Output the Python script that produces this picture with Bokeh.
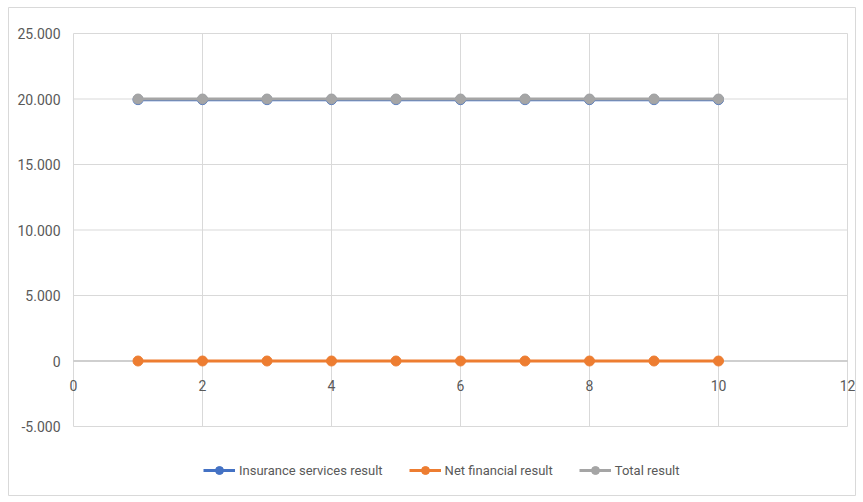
from bokeh.plotting import figure
from bokeh.models import Legend, LegendItem
from bokeh.core.properties import value
from bokeh.embed import file_html
from bokeh.resources import INLINE

periods = [1, 2, 3, 4, 5, 6, 7, 8, 9, 10]
insurance_services = [19950, 19950, 19950, 19950, 19950, 19950, 19950, 19950, 19950, 19950]
net_financial = [0, 0, 0, 0, 0, 0, 0, 0, 0, 0]
total_result = [20000, 20000, 20000, 20000, 20000, 20000, 20000, 20000, 20000, 20000]
series_names = ["Insurance services result", "Net financial result", "Total result"]
y_ticks = [-5000, 0, 5000, 10000, 15000, 20000, 25000]
y_labels = ["-5.000", "0", "5.000", "10.000", "15.000", "20.000", "25.000"]
x_ticks = [0, 2, 4, 6, 8, 10, 12]
x_labels = ["0", "2", "4", "6", "8", "10", "12"]
x_min, x_max = 0, 12
y_min, y_max = -5000, 25000

FONT = "Roboto"
TXT = "#595959"
GRID = "#d9d9d9"
colors = ["#4472C4", "#ED7D31", "#A5A5A5"]

# The frame is the chart-area border; axes are drawn inside it.
p = figure(width=863, height=502, output_backend="svg", toolbar_location=None,
           x_range=(-1.008, 12.124), y_range=(-10267, 26985),
           min_border_left=8, min_border_right=8, min_border_top=7, min_border_bottom=7)
p.outline_line_color = GRID
p.background_fill_color = "white"
p.border_fill_color = "white"
p.xaxis.visible = False
p.yaxis.visible = False
p.xgrid.grid_line_color = None
p.ygrid.grid_line_color = None

# vertical gridlines
p.segment(x0=x_ticks, x1=x_ticks, y0=[y_min] * len(x_ticks), y1=[y_max] * len(x_ticks),
          line_color=GRID, line_width=1)
# horizontal gridlines (except zero line)
grid_y = [t for t in y_ticks if t != 0]
p.segment(x0=[x_min] * len(grid_y), x1=[x_max] * len(grid_y), y0=grid_y, y1=grid_y,
          line_color=GRID, line_width=1)
# zero axis line
p.segment(x0=[x_min], x1=[x_max], y0=[0], y1=[0], line_color="#bfbfbf", line_width=1.5)

# tick labels
p.text(x=[x_min] * len(y_ticks), y=y_ticks, text=y_labels, x_offset=-13,
       text_align="right", text_baseline="middle", text_font=value(FONT),
       text_font_size="14px", text_color=TXT)
p.text(x=x_ticks, y=[0] * len(x_ticks), text=x_labels, y_offset=19,
       text_align="center", text_baseline="top", text_font=value(FONT),
       text_font_size="14px", text_color=TXT)

items = []
for vals, name, col in zip([insurance_services, net_financial, total_result], series_names, colors):
    ln = p.line(periods, vals, line_color=col, line_width=3)
    sc = p.scatter(periods, vals, size=10, fill_color=col, line_color=col)
    items.append(LegendItem(label=name, renderers=[ln, sc]))

legend = Legend(items=items, orientation="horizontal", location=(195, 15),
                label_text_font=FONT, label_text_font_size="13px", label_text_color=TXT,
                glyph_width=32, label_standoff=4, spacing=26, padding=4, margin=0,
                border_line_color=None, background_fill_alpha=0)
p.add_layout(legend, "center")

open("out.html", "w").write(file_html(p, INLINE))
